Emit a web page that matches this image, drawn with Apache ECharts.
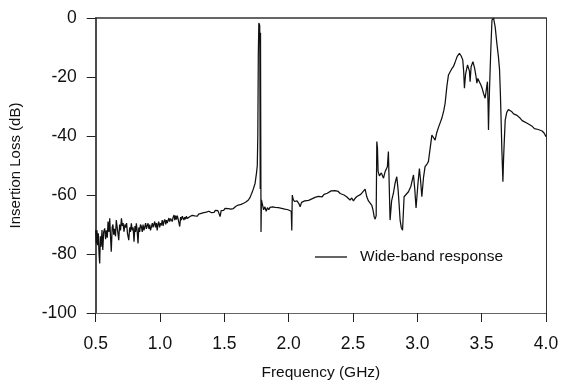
<!DOCTYPE html>
<html>
<head>
<meta charset="utf-8">
<script src="https://cdn.jsdelivr.net/npm/echarts@6/dist/echarts.min.js"></script>
<style>html,body{margin:0;padding:0;background:#fff}#c{width:561px;height:384px}</style>
</head>
<body>
<div id="c"></div>
<script>
var xTicks = [0.5, 1.0, 1.5, 2.0, 2.5, 3.0, 3.5, 4.0];
var yTicks = [0, -20, -40, -60, -80, -100];
var seriesName = 'Wide-band response';
var freqGHz = [
0.500,0.505,0.510,0.515,0.520,0.526,0.531,0.536,0.542,0.549,0.555,0.562,0.570,0.577,0.583,0.590,0.596,0.603,0.609,0.615,
0.621,0.628,0.634,0.640,0.647,0.654,0.660,0.667,0.673,0.679,0.686,0.693,0.700,0.707,0.713,0.720,0.727,0.734,0.740,0.747,
0.757,0.764,0.770,0.777,0.784,0.791,0.798,0.805,0.810,0.816,0.822,0.829,0.835,0.842,0.848,0.855,0.862,0.868,0.875,0.881,
0.888,0.894,0.900,0.907,0.914,0.920,0.926,0.932,0.940,0.946,0.952,0.959,0.965,0.972,0.978,0.984,0.990,0.997,1.004,1.010,
1.017,1.024,1.030,1.037,1.044,1.050,1.056,1.062,1.069,1.075,1.082,1.088,1.095,1.102,1.109,1.115,1.121,1.127,1.134,1.140,
1.147,1.153,1.160,1.166,1.173,1.179,1.186,1.192,1.199,1.205,1.212,1.218,1.225,1.233,1.240,1.250,1.260,1.270,1.280,1.290,
1.300,1.311,1.320,1.330,1.340,1.350,1.360,1.370,1.380,1.389,1.400,1.410,1.420,1.430,1.440,1.450,1.460,1.467,1.475,1.485,
1.495,1.505,1.519,1.530,1.540,1.550,1.560,1.570,1.580,1.590,1.600,1.609,1.620,1.630,1.640,1.650,1.660,1.670,1.687,1.700,
1.713,1.725,1.739,1.750,1.756,1.760,1.764,1.768,1.772,1.775,1.777,1.779,1.781,1.783,1.785,1.788,1.795,1.805,1.815,1.825,
1.835,1.845,1.855,1.865,1.875,1.885,1.895,1.907,1.920,1.930,1.945,1.955,1.970,1.980,1.995,2.010,2.020,2.024,2.028,2.035,
2.045,2.055,2.065,2.080,2.089,2.100,2.115,2.125,2.140,2.155,2.170,2.180,2.192,2.205,2.218,2.230,2.245,2.260,2.275,2.290,
2.300,2.315,2.330,2.345,2.360,2.374,2.385,2.400,2.415,2.430,2.450,2.465,2.477,2.490,2.503,2.515,2.530,2.545,2.560,2.575,
2.594,2.607,2.620,2.635,2.646,2.655,2.665,2.672,2.680,2.685,2.690,2.695,2.705,2.711,2.720,2.737,2.750,2.767,2.775,2.781,
2.788,2.800,2.814,2.827,2.840,2.850,2.858,2.866,2.875,2.885,2.897,2.910,2.931,2.950,2.970,2.980,2.990,3.005,3.016,3.025,
3.035,3.048,3.060,3.075,3.086,3.100,3.113,3.125,3.138,3.150,3.165,3.180,3.190,3.205,3.216,3.230,3.242,3.255,3.268,3.280,
3.295,3.310,3.327,3.340,3.353,3.360,3.366,3.375,3.390,3.397,3.405,3.410,3.418,3.432,3.445,3.455,3.463,3.470,3.480,3.494,
3.505,3.514,3.527,3.540,3.545,3.550,3.553,3.557,3.560,3.570,3.580,3.592,3.605,3.618,3.630,3.639,3.645,3.649,3.653,3.657,
3.661,3.665,3.670,3.675,3.683,3.695,3.708,3.722,3.735,3.748,3.761,3.775,3.790,3.800,3.815,3.830,3.850,3.865,3.877,3.895,
3.910,3.925,3.940,3.955,3.970,3.985,4.000
];
var lossDB = [
-71.9,-76.4,-72.0,-77.0,-73.0,-80.0,-83.2,-74.0,-77.5,-71.9,-78.6,-72.5,-71.3,-75.0,-72.0,-74.5,-69.0,-72.5,-67.9,-74.0,
-79.2,-71.0,-70.0,-73.5,-71.5,-74.0,-68.5,-71.0,-73.0,-75.3,-70.0,-72.0,-67.9,-70.5,-69.5,-72.4,-70.0,-71.0,-69.5,-73.0,
-75.3,-71.0,-72.5,-69.6,-72.0,-71.0,-75.8,-70.5,-72.5,-69.6,-72.0,-76.4,-71.0,-72.5,-70.0,-70.7,-72.5,-70.0,-72.0,-71.5,
-69.5,-71.5,-70.5,-69.6,-71.5,-70.0,-72.0,-71.0,-69.5,-71.0,-70.0,-69.0,-71.0,-69.5,-72.0,-70.0,-69.0,-71.0,-69.5,-70.3,
-68.5,-70.5,-69.0,-68.3,-70.0,-68.5,-69.5,-69.3,-67.8,-69.0,-68.0,-67.6,-69.0,-67.5,-66.8,-68.5,-67.0,-68.3,-67.0,-68.0,
-67.5,-70.7,-67.5,-68.5,-67.2,-67.6,-68.5,-67.5,-68.2,-67.2,-68.0,-68.0,-67.5,-67.3,-67.8,-66.9,-67.5,-67.1,-66.6,-67.2,
-66.5,-66.8,-66.2,-66.7,-66.0,-66.5,-65.8,-66.2,-65.5,-65.6,-66.0,-65.4,-65.9,-65.2,-65.8,-65.3,-65.9,-67.3,-65.3,-64.8,
-65.2,-64.5,-64.0,-64.6,-64.2,-64.8,-64.3,-64.6,-64.0,-63.8,-64.1,-63.4,-63.5,-63.2,-63.0,-62.8,-62.5,-62.3,-61.7,-60.8,
-59.4,-58.0,-56.0,-52.5,-50.0,-40.0,-12.0,-1.7,-1.5,-2.5,-30.0,-58.0,-5.0,-40.0,-72.5,-61.7,-63.0,-65.0,-64.0,-65.5,
-64.3,-65.0,-64.2,-64.8,-64.0,-63.5,-64.2,-63.7,-64.3,-63.8,-64.5,-64.0,-64.8,-64.2,-65.0,-65.6,-65.5,-72.0,-60.0,-61.5,
-62.2,-62.8,-62.0,-63.0,-64.0,-62.5,-63.0,-62.0,-62.5,-61.8,-62.3,-61.3,-61.7,-60.8,-61.0,-60.5,-60.0,-60.6,-59.8,-59.2,
-59.4,-59.0,-58.6,-59.2,-58.5,-58.0,-58.8,-59.5,-59.8,-60.0,-60.6,-61.2,-61.7,-61.0,-62.0,-61.2,-60.5,-60.0,-59.8,-59.2,
-58.0,-60.6,-62.0,-62.5,-63.5,-65.0,-67.5,-68.2,-67.0,-41.9,-44.0,-52.0,-53.5,-53.8,-52.5,-54.3,-52.0,-50.4,-45.3,-56.0,
-68.5,-62.0,-59.4,-56.0,-53.8,-58.0,-63.0,-68.5,-71.0,-71.9,-60.6,-60.0,-58.9,-57.0,-53.2,-58.0,-64.4,-56.0,-51.0,-55.0,
-60.6,-54.0,-50.4,-49.5,-48.7,-44.0,-39.7,-40.5,-41.4,-39.0,-37.0,-35.2,-34.0,-31.5,-28.9,-23.0,-19.3,-18.2,-17.2,-16.5,
-14.8,-13.0,-12.0,-12.8,-14.2,-18.0,-23.8,-19.0,-15.9,-15.4,-18.0,-21.6,-16.5,-14.8,-17.0,-19.5,-22.1,-20.5,-21.0,-22.7,
-24.0,-25.5,-27.2,-23.0,-21.6,-30.0,-38.0,-30.0,-25.5,-12.0,-0.7,0.0,-3.0,-8.6,-13.0,-17.6,-25.0,-31.2,-38.0,-44.7,
-50.0,-55.5,-48.0,-42.5,-34.6,-32.0,-31.0,-31.2,-31.8,-32.5,-32.3,-33.0,-33.5,-34.0,-34.8,-35.2,-35.6,-36.0,-36.3,-36.8,
-37.5,-37.2,-37.8,-38.0,-38.3,-39.0,-40.2
];

var points = freqGHz.map(function (f, i) { return [f, lossDB[i]]; });
var FONT = '"Liberation Sans", Arial, sans-serif';

var chart = echarts.init(document.getElementById('c'), null, {renderer: 'canvas'});
chart.setOption({
  animation: false,
  backgroundColor: '#ffffff',
  grid: {left: 95.7, right: 15, top: 18, bottom: 71, containLabel: false, outerBoundsMode: 'none'},
  legend: {
    show: true,
    data: [{name: seriesName, icon: 'rect'}],
    left: 315, top: 248, padding: 0,
    itemWidth: 32, itemHeight: 1.3,
    itemStyle: {color: '#111', borderWidth: 0},
    textStyle: {fontFamily: FONT, fontSize: 15.5, color: '#111', padding: [0, 0, 0, 8], lineHeight: 18},
    selectedMode: false
  },
  xAxis: [{
    type: 'value', min: xTicks[0], max: xTicks[xTicks.length - 1], interval: 0.5,
    name: 'Frequency (GHz)', nameLocation: 'middle', nameGap: 52,
    nameTextStyle: {fontFamily: FONT, fontSize: 15.5, color: '#111'},
    axisLine: {show: true, onZero: false, lineStyle: {color: '#666', width: 1}},
    axisTick: {show: true, inside: false, length: 9, lineStyle: {color: '#222', width: 1}},
    axisLabel: {fontFamily: FONT, fontSize: 17.5, color: '#111', margin: 22,
      formatter: function (v) { return v.toFixed(1); }},
    splitLine: {show: false}
  }, {
    type: 'value', position: 'top', min: xTicks[0], max: xTicks[xTicks.length - 1],
    axisLine: {show: true, onZero: false, lineStyle: {color: '#333', width: 1.5}},
    axisTick: {show: false}, axisLabel: {show: false}, splitLine: {show: false}
  }],
  yAxis: [{
    type: 'value', min: yTicks[yTicks.length - 1], max: yTicks[0], interval: 20,
    name: 'Insertion Loss (dB)', nameLocation: 'middle', nameGap: 72, nameRotate: 90,
    nameTextStyle: {fontFamily: FONT, fontSize: 15, color: '#111'},
    axisLine: {show: true, onZero: false, lineStyle: {color: '#111', width: 1.5}},
    axisTick: {show: true, inside: false, length: 9, lineStyle: {color: '#222', width: 1}},
    axisLabel: {fontFamily: FONT, fontSize: 17.5, color: '#111', margin: 19},
    splitLine: {show: false}
  }, {
    type: 'value', position: 'right', min: yTicks[yTicks.length - 1], max: yTicks[0],
    axisLine: {show: true, onZero: false, lineStyle: {color: '#333', width: 1}},
    axisTick: {show: false}, axisLabel: {show: false}, splitLine: {show: false}
  }],
  series: [{
    name: seriesName,
    type: 'line',
    xAxisIndex: 0, yAxisIndex: 0,
    data: points,
    showSymbol: false, symbol: 'none',
    lineStyle: {color: '#111', width: 1.25},
    itemStyle: {color: '#111'}
  }]
});
</script>
</body>
</html>
